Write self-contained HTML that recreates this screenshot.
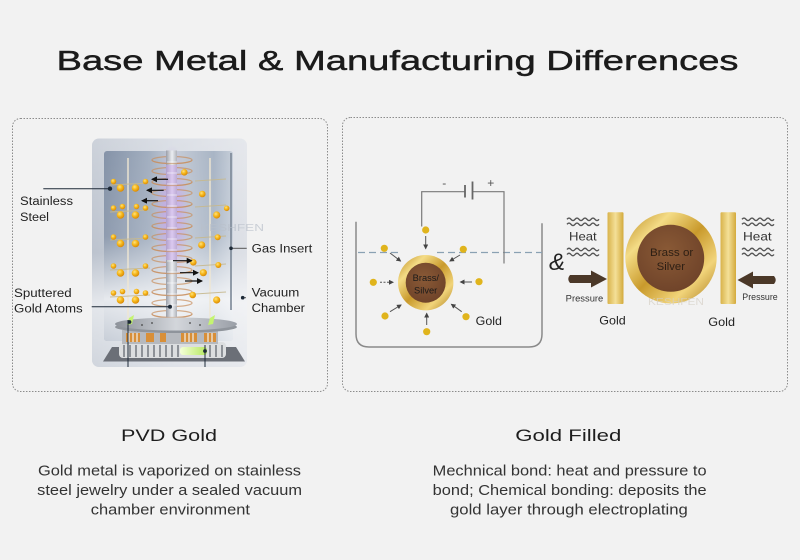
<!DOCTYPE html>
<html><head><meta charset="utf-8">
<style>
html,body{margin:0;padding:0;background:#f2f2f2;}
svg{display:block;}
text{font-family:"Liberation Sans",sans-serif;}
</style></head><body>
<svg width="800" height="560" viewBox="0 0 800 560" xmlns="http://www.w3.org/2000/svg">
<defs>
 <linearGradient id="frame" x1="0" y1="0" x2="1" y2="0">
  <stop offset="0" stop-color="#bcc3ce"/><stop offset="0.5" stop-color="#d0d5de"/><stop offset="1" stop-color="#dde0e6"/>
 </linearGradient>
 <linearGradient id="frameV" x1="0" y1="0" x2="0" y2="1">
  <stop offset="0" stop-color="#fff" stop-opacity="0.25"/><stop offset="0.5" stop-color="#fff" stop-opacity="0"/><stop offset="0.72" stop-color="#fff" stop-opacity="0.6"/><stop offset="1" stop-color="#fff" stop-opacity="0.3"/>
 </linearGradient>
 <linearGradient id="chamber" x1="0" y1="0" x2="1" y2="0">
  <stop offset="0" stop-color="#8593a8"/><stop offset="0.35" stop-color="#a3afc0"/><stop offset="0.55" stop-color="#c6cdd8"/><stop offset="0.85" stop-color="#a9b5c5"/><stop offset="1" stop-color="#c6ced9"/>
 </linearGradient>
 <linearGradient id="chamberV" x1="0" y1="0" x2="0" y2="1">
  <stop offset="0" stop-color="#fff" stop-opacity="0"/><stop offset="0.45" stop-color="#fff" stop-opacity="0.08"/><stop offset="0.78" stop-color="#fff" stop-opacity="0.8"/><stop offset="1" stop-color="#fff" stop-opacity="0.55"/>
 </linearGradient>
 <linearGradient id="col" x1="0" y1="0" x2="1" y2="0">
  <stop offset="0" stop-color="#9a9ea8"/><stop offset="0.55" stop-color="#eceef2"/><stop offset="1" stop-color="#b0b3ba"/>
 </linearGradient>
 <radialGradient id="purple" cx="0.5" cy="0.5" r="0.5">
  <stop offset="0" stop-color="#c69af0" stop-opacity="0.85"/><stop offset="1" stop-color="#c69af0" stop-opacity="0"/>
 </radialGradient>
 <radialGradient id="ball" cx="0.38" cy="0.35" r="0.65">
  <stop offset="0" stop-color="#ffe27e"/><stop offset="0.5" stop-color="#f6b81c"/><stop offset="1" stop-color="#d98a08"/>
 </radialGradient>
 <linearGradient id="plat" x1="0" y1="0" x2="1" y2="0">
  <stop offset="0" stop-color="#8d929a"/><stop offset="0.5" stop-color="#d3d6db"/><stop offset="1" stop-color="#9a9fa7"/>
 </linearGradient>
 <linearGradient id="ring" x1="0" y1="0" x2="1" y2="1">
  <stop offset="0" stop-color="#b8861c"/><stop offset="0.25" stop-color="#f4dc86"/><stop offset="0.5" stop-color="#c99a2c"/><stop offset="0.75" stop-color="#f1d47a"/><stop offset="1" stop-color="#a9791a"/>
 </linearGradient>
 <radialGradient id="brown" cx="0.45" cy="0.4" r="0.6">
  <stop offset="0" stop-color="#8a5a36"/><stop offset="1" stop-color="#70442a"/>
 </radialGradient>
 <linearGradient id="bar" x1="0" y1="0" x2="1" y2="0">
  <stop offset="0" stop-color="#d8b24a"/><stop offset="0.5" stop-color="#f4e098"/><stop offset="1" stop-color="#d3aa3c"/>
 </linearGradient>
 <linearGradient id="green" x1="0" y1="0" x2="1" y2="0">
  <stop offset="0" stop-color="#f4ffd8"/><stop offset="1" stop-color="#b6e860"/>
 </linearGradient>
 <marker id="ah" markerWidth="6" markerHeight="6" refX="5" refY="3" orient="auto" markerUnits="userSpaceOnUse">
  <path d="M0,0 L6,3 L0,6 Z" fill="#111"/>
 </marker>
 <marker id="ah2" markerWidth="5" markerHeight="5" refX="4" refY="2.5" orient="auto" markerUnits="userSpaceOnUse">
  <path d="M0,0 L5,2.5 L0,5 Z" fill="#444"/>
 </marker>
</defs>

<rect width="800" height="560" fill="#f2f2f2"/>

<!-- Title -->
<text x="56.5" y="70" font-size="28" textLength="682" lengthAdjust="spacingAndGlyphs" fill="#1b1b1b" stroke="#1b1b1b" stroke-width="0.45">Base Metal &amp; Manufacturing Differences</text>

<!-- Panels -->
<rect x="12.5" y="118.5" width="315" height="273" rx="8" fill="#f2f2f2" stroke="#8c8c8c" stroke-width="1" stroke-dasharray="1.5 1.5"/>
<rect x="342.5" y="117.5" width="445" height="274" rx="8" fill="#f2f2f2" stroke="#8c8c8c" stroke-width="1" stroke-dasharray="1.5 1.5"/>

<!-- ===== PVD illustration ===== -->
<rect x="92" y="138.5" width="155" height="228.5" rx="7" fill="url(#frame)"/>
<rect x="92" y="138.5" width="155" height="228.5" rx="7" fill="url(#frameV)"/>
<rect x="104" y="151" width="129" height="190" rx="3" fill="url(#chamber)"/>
<rect x="104" y="151" width="129" height="190" rx="3" fill="url(#chamberV)"/>
<line x1="231" y1="153" x2="231" y2="310" stroke="#7b8796" stroke-width="1.6"/>

<!-- purple glow & column -->
<ellipse cx="172" cy="215" rx="18" ry="70" fill="url(#purple)"/>
<!-- coils behind -->
<g fill="none" stroke="#c98f5e" stroke-width="1.3" opacity="0.7">
 <ellipse cx="172" cy="160" rx="20" ry="3.5"/><ellipse cx="172" cy="171" rx="20" ry="3.5"/><ellipse cx="172" cy="182" rx="20" ry="3.5"/>
 <ellipse cx="172" cy="193" rx="20" ry="3.5"/><ellipse cx="172" cy="204" rx="20" ry="3.5"/><ellipse cx="172" cy="215" rx="20" ry="3.5"/>
 <ellipse cx="172" cy="226" rx="20" ry="3.5"/><ellipse cx="172" cy="237" rx="20" ry="3.5"/><ellipse cx="172" cy="248" rx="20" ry="3.5"/>
 <ellipse cx="172" cy="259" rx="20" ry="3.5"/><ellipse cx="172" cy="270" rx="20" ry="3.5"/><ellipse cx="172" cy="281" rx="20" ry="3.5"/>
 <ellipse cx="172" cy="292" rx="20" ry="3.5"/><ellipse cx="172" cy="303" rx="20" ry="3.5"/><ellipse cx="172" cy="314" rx="20" ry="3.5"/>
</g>
<rect x="166" y="150.5" width="11" height="180" fill="url(#col)"/>
<rect x="166" y="165" width="11" height="95" fill="#c9a4ee" opacity="0.5"/>
<g stroke="#fff" stroke-width="0.8" opacity="0.7">
 <line x1="167" y1="162" x2="177" y2="162"/><line x1="167" y1="173" x2="177" y2="173"/><line x1="167" y1="184" x2="177" y2="184"/>
 <line x1="167" y1="195" x2="177" y2="195"/><line x1="167" y1="206" x2="177" y2="206"/><line x1="167" y1="217" x2="177" y2="217"/>
 <line x1="167" y1="228" x2="177" y2="228"/><line x1="167" y1="239" x2="177" y2="239"/><line x1="167" y1="250" x2="177" y2="250"/>
 <line x1="167" y1="261" x2="177" y2="261"/><line x1="167" y1="272" x2="177" y2="272"/><line x1="167" y1="283" x2="177" y2="283"/>
 <line x1="167" y1="294" x2="177" y2="294"/><line x1="167" y1="305" x2="177" y2="305"/>
</g>
<!-- coils front halves -->
<g fill="none" stroke="#c98f5e" stroke-width="1.2" opacity="0.6">
 <path d="M152 160 a20 3.5 0 0 0 40 0"/><path d="M152 182 a20 3.5 0 0 0 40 0"/><path d="M152 204 a20 3.5 0 0 0 40 0"/>
 <path d="M152 226 a20 3.5 0 0 0 40 0"/><path d="M152 248 a20 3.5 0 0 0 40 0"/><path d="M152 270 a20 3.5 0 0 0 40 0"/>
 <path d="M152 292 a20 3.5 0 0 0 40 0"/><path d="M152 314 a20 3.5 0 0 0 40 0"/>
</g>

<!-- rods -->
<line x1="128" y1="158" x2="128" y2="322" stroke="#efe7d2" stroke-width="1.4"/>
<line x1="210" y1="158" x2="210" y2="322" stroke="#efe7d2" stroke-width="1.4"/>

<!-- branches -->
<g stroke="#c7b98e" stroke-width="1" opacity="0.9">
 <line x1="110" y1="185" x2="150" y2="183"/><line x1="110" y1="212" x2="150" y2="210"/><line x1="110" y1="240" x2="150" y2="238"/>
 <line x1="110" y1="270" x2="150" y2="268"/><line x1="110" y1="297" x2="150" y2="295"/>
 <line x1="195" y1="181" x2="226" y2="179"/><line x1="195" y1="207" x2="226" y2="205"/><line x1="195" y1="238" x2="226" y2="236"/>
 <line x1="195" y1="266" x2="226" y2="264"/><line x1="195" y1="294" x2="226" y2="292"/>
</g>

<!-- gold balls left -->
<g fill="url(#ball)">
 <circle cx="113.5" cy="181.5" r="2.8"/><circle cx="145.5" cy="181.5" r="2.8"/><circle cx="120.5" cy="188" r="3.8"/><circle cx="135.5" cy="188" r="3.8"/>
 <circle cx="113.5" cy="208" r="2.8"/><circle cx="122.5" cy="206.5" r="2.8"/><circle cx="136.5" cy="206.5" r="2.8"/><circle cx="145.5" cy="208" r="2.8"/><circle cx="120.5" cy="215" r="3.8"/><circle cx="135.5" cy="215" r="3.8"/>
 <circle cx="113.5" cy="237" r="2.8"/><circle cx="145.5" cy="237" r="2.8"/><circle cx="120.5" cy="243.5" r="3.8"/><circle cx="135.5" cy="243.5" r="3.8"/>
 <circle cx="113.5" cy="266" r="2.8"/><circle cx="145.5" cy="266" r="2.8"/><circle cx="120.5" cy="273" r="3.8"/><circle cx="135.5" cy="273" r="3.8"/>
 <circle cx="113.5" cy="293" r="2.8"/><circle cx="122.5" cy="291.5" r="2.8"/><circle cx="136.5" cy="291.5" r="2.8"/><circle cx="145.5" cy="293" r="2.8"/><circle cx="120.5" cy="300" r="3.8"/><circle cx="135.5" cy="300" r="3.8"/>
</g>
<!-- gold balls right -->
<g fill="url(#ball)">
 <circle cx="184.3" cy="172.3" r="3.3"/><circle cx="202.3" cy="194" r="3.3"/><circle cx="216.7" cy="215" r="3.6"/><circle cx="226.7" cy="208.3" r="2.8"/>
 <circle cx="201.7" cy="245" r="3.6"/><circle cx="217.7" cy="237.3" r="3"/><circle cx="193.3" cy="262.3" r="3.3"/><circle cx="203.3" cy="272.7" r="3.6"/>
 <circle cx="218.3" cy="265" r="3"/><circle cx="192.7" cy="295" r="3.3"/><circle cx="216.7" cy="300" r="3.6"/>
</g>

<!-- arrows -->
<g stroke="#111" stroke-width="1.2" marker-end="url(#ah)">
 <line x1="168" y1="179.3" x2="152" y2="179.3"/>
 <line x1="163.7" y1="190.3" x2="147" y2="190.3"/>
 <line x1="158" y1="200.7" x2="142" y2="200.7"/>
 <line x1="173" y1="260.7" x2="191.7" y2="260.7"/>
 <line x1="180" y1="272.7" x2="198" y2="272.7"/>
 <line x1="185" y1="281" x2="202" y2="281"/>
</g>

<!-- base -->
<path d="M103 361.5 L112 347 L236 347 L245 361.5 Z" fill="#6b6f77"/>
<rect x="119" y="342" width="107" height="16" rx="4" fill="#dcdee0"/>
<g stroke="#8e9298" stroke-width="2">
 <line x1="124" y1="345" x2="124" y2="357"/><line x1="130" y1="345" x2="130" y2="357"/><line x1="136" y1="345" x2="136" y2="357"/>
 <line x1="142" y1="345" x2="142" y2="357"/><line x1="148" y1="345" x2="148" y2="357"/><line x1="154" y1="345" x2="154" y2="357"/>
 <line x1="160" y1="345" x2="160" y2="357"/><line x1="166" y1="345" x2="166" y2="357"/><line x1="172" y1="345" x2="172" y2="357"/>
 <line x1="178" y1="345" x2="178" y2="357"/><line x1="210" y1="345" x2="210" y2="357"/><line x1="216" y1="345" x2="216" y2="357"/><line x1="222" y1="345" x2="222" y2="357"/>
</g>
<rect x="180" y="347" width="27" height="8" rx="3" fill="url(#green)"/>
<rect x="122" y="330" width="96" height="14" fill="#b6b9be"/>
<g fill="#d88f38">
 <rect x="126" y="333" width="14" height="9"/><rect x="146" y="333" width="8" height="9"/><rect x="160" y="333" width="6" height="9"/>
 <rect x="181" y="333" width="16" height="9"/><rect x="204" y="333" width="12" height="9"/>
</g>
<g stroke="#f0f0f0" stroke-width="1.2">
 <line x1="129" y1="333" x2="129" y2="342"/><line x1="133" y1="333" x2="133" y2="342"/><line x1="137" y1="333" x2="137" y2="342"/>
 <line x1="185" y1="333" x2="185" y2="342"/><line x1="189" y1="333" x2="189" y2="342"/><line x1="193" y1="333" x2="193" y2="342"/>
 <line x1="208" y1="333" x2="208" y2="342"/><line x1="212" y1="333" x2="212" y2="342"/>
</g>
<ellipse cx="176" cy="327" rx="61" ry="6" fill="#8f949b"/>
<ellipse cx="176" cy="324" rx="61" ry="6.5" fill="url(#plat)"/>
<g fill="#444">
 <circle cx="152" cy="323" r="0.9"/><circle cx="190" cy="323" r="0.9"/><circle cx="200" cy="325" r="0.9"/><circle cx="142" cy="325" r="0.9"/>
</g>
<path d="M129 318 L134 315 L132 324 L127 325 Z" fill="#c4f470"/>
<path d="M210 318 L215 315 L213 324 L208 325 Z" fill="#c4f470"/>

<!-- leaders -->
<g stroke="#1e2a38" stroke-width="1" fill="#1e2a38">
 <line x1="43.3" y1="188.7" x2="110" y2="188.7"/><circle cx="110" cy="188.7" r="1.7"/>
 <line x1="231" y1="248.3" x2="246.7" y2="248.3" stroke="#555"/><circle cx="231" cy="248.3" r="1.3"/>
 <line x1="242.7" y1="297.7" x2="246" y2="297.7" stroke="#555"/><circle cx="242.7" cy="297.7" r="1.3"/>
 <line x1="91.7" y1="306.7" x2="170" y2="306.7"/><circle cx="170" cy="306.7" r="1.5"/>
 <line x1="128" y1="320" x2="128" y2="367"/>
 <line x1="205" y1="345" x2="205" y2="367"/><circle cx="205" cy="351" r="1.4"/><circle cx="129.5" cy="322" r="1.4"/>
</g>
<text x="200" y="231" font-family="Liberation Serif,serif" font-size="10" fill="#b9c0ca" opacity="0.7" textLength="64" lengthAdjust="spacingAndGlyphs">KESHFEN</text>

<!-- PVD labels -->
<g font-size="11.5" fill="#222">
 <text x="20" y="205" textLength="53" lengthAdjust="spacingAndGlyphs">Stainless</text>
 <text x="20" y="221" textLength="29" lengthAdjust="spacingAndGlyphs">Steel</text>
 <text x="251.7" y="252.7" textLength="60.6" lengthAdjust="spacingAndGlyphs">Gas Insert</text>
 <text x="251.7" y="296.5" textLength="47.6" lengthAdjust="spacingAndGlyphs">Vacuum</text>
 <text x="251.7" y="312" textLength="53.3" lengthAdjust="spacingAndGlyphs">Chamber</text>
 <text x="14" y="297" textLength="57.7" lengthAdjust="spacingAndGlyphs">Sputtered</text>
 <text x="14" y="312.5" textLength="68.7" lengthAdjust="spacingAndGlyphs">Gold Atoms</text>
</g>

<!-- ===== Electroplating ===== -->
<path d="M356 221.7 L356 334 Q356 347 369 347 L529 347 Q542 347 542 334 L542 223.3" fill="none" stroke="#8a8a8a" stroke-width="1.5"/>
<g stroke="#8aa1b3" stroke-width="1.2" stroke-dasharray="7 4">
 <line x1="358" y1="252.5" x2="401" y2="252.5"/>
 <line x1="437" y1="252.5" x2="542" y2="252.5"/>
</g>
<g fill="none" stroke="#7a7a7a" stroke-width="1.2">
 <polyline points="421.7,226.5 421.7,191.7 465,191.7"/>
 <polyline points="472.5,191.7 504,191.7 504,263.5"/>
</g>
<line x1="465" y1="185" x2="465" y2="197.5" stroke="#666" stroke-width="1.8"/>
<line x1="472.5" y1="181.5" x2="472.5" y2="199.5" stroke="#666" stroke-width="1.8"/>
<text x="444.3" y="187" font-size="12" fill="#555" text-anchor="middle">-</text>
<text x="490.7" y="187" font-size="12" fill="#555" text-anchor="middle">+</text>

<circle cx="425.7" cy="282.7" r="27.7" fill="url(#ring)"/>
<circle cx="425.7" cy="282.7" r="20" fill="url(#brown)"/>
<text x="412.7" y="281" font-size="9" fill="#1a1a1a" textLength="26.3" lengthAdjust="spacingAndGlyphs">Brass/</text>
<text x="414" y="293.3" font-size="9" fill="#1a1a1a" textLength="23.3" lengthAdjust="spacingAndGlyphs">Silver</text>

<g fill="#e0b41c">
 <circle cx="425.7" cy="230" r="3.6"/><circle cx="384.3" cy="248.3" r="3.6"/><circle cx="463.3" cy="249.3" r="3.6"/>
 <circle cx="373.3" cy="282.3" r="3.6"/><circle cx="479" cy="281.7" r="3.6"/><circle cx="385" cy="316" r="3.6"/>
 <circle cx="466" cy="316.7" r="3.6"/><circle cx="426.7" cy="331.7" r="3.6"/>
</g>
<g stroke="#555" stroke-width="1" marker-end="url(#ah2)">
 <line x1="425.7" y1="236" x2="425.7" y2="248.5"/>
 <line x1="390" y1="253" x2="400.5" y2="261"/>
 <line x1="460" y1="255" x2="450" y2="261"/>
 <line x1="380" y1="282.3" x2="393" y2="282.3" stroke-dasharray="2 1.5"/>
 <line x1="472" y1="282" x2="460.5" y2="282"/>
 <line x1="390" y1="311.7" x2="401" y2="305"/>
 <line x1="461.7" y1="311.7" x2="451.5" y2="304.3"/>
 <line x1="426.7" y1="325" x2="426.7" y2="313.5"/>
</g>
<text x="475.7" y="325" font-size="12" fill="#222" textLength="26.3" lengthAdjust="spacingAndGlyphs">Gold</text>

<text x="557" y="270" font-family="Liberation Serif,serif" font-style="italic" font-size="24" fill="#222" text-anchor="middle">&amp;</text>

<!-- ===== Gold filled ===== -->
<rect x="607.5" y="212.3" width="16" height="91.7" rx="1" fill="url(#bar)"/>
<rect x="720.5" y="212.3" width="15.5" height="91.7" rx="1" fill="url(#bar)"/>
<circle cx="671" cy="257.8" r="45.7" fill="url(#ring)"/>
<circle cx="670.7" cy="258.3" r="33.5" fill="url(#brown)"/>
<text x="650" y="256" font-size="11" fill="#2d1f14" textLength="43.3" lengthAdjust="spacingAndGlyphs">Brass or</text>
<text x="656.7" y="270" font-size="11" fill="#2d1f14" textLength="28.3" lengthAdjust="spacingAndGlyphs">Silver</text>
<text x="648" y="305" font-family="Liberation Serif,serif" font-size="10" fill="#d6d0c6" opacity="0.7" textLength="56" lengthAdjust="spacingAndGlyphs">KESHFEN</text>

<g fill="none" stroke="#555" stroke-width="1.4">
 <path d="M567 219.3 q2 -2.5 4 0 t4 0 t4 0 t4 0 t4 0 t4 0 t4 0 t4 0"/>
 <path d="M567 224.3 q2 -2.5 4 0 t4 0 t4 0 t4 0 t4 0 t4 0 t4 0 t4 0"/>
 <path d="M567 249.5 q2 -2.5 4 0 t4 0 t4 0 t4 0 t4 0 t4 0 t4 0 t4 0"/>
 <path d="M567 254.5 q2 -2.5 4 0 t4 0 t4 0 t4 0 t4 0 t4 0 t4 0 t4 0"/>
 <path d="M742 219.3 q2 -2.5 4 0 t4 0 t4 0 t4 0 t4 0 t4 0 t4 0 t4 0"/>
 <path d="M742 224.3 q2 -2.5 4 0 t4 0 t4 0 t4 0 t4 0 t4 0 t4 0 t4 0"/>
 <path d="M742 249.5 q2 -2.5 4 0 t4 0 t4 0 t4 0 t4 0 t4 0 t4 0 t4 0"/>
 <path d="M742 254.5 q2 -2.5 4 0 t4 0 t4 0 t4 0 t4 0 t4 0 t4 0 t4 0"/>
</g>
<text x="569" y="240.7" font-size="12" fill="#333" textLength="27.7" lengthAdjust="spacingAndGlyphs">Heat</text>
<text x="743" y="240.7" font-size="12" fill="#333" textLength="28.7" lengthAdjust="spacingAndGlyphs">Heat</text>

<path d="M570 275 L591 275 L591 270.5 L607 279 L591 287.5 L591 283 L570 283 Q566.5 279 570 275 Z" fill="#4b3828"/>
<path d="M774 276 L753 276 L753 271.5 L737.5 280 L753 288.5 L753 284 L774 284 Q777.5 280 774 276 Z" fill="#4b3828"/>
<text x="565.7" y="301.7" font-size="9" fill="#333" textLength="37.6" lengthAdjust="spacingAndGlyphs">Pressure</text>
<text x="742.3" y="300" font-size="9" fill="#333" textLength="35.4" lengthAdjust="spacingAndGlyphs">Pressure</text>

<text x="599.3" y="324.3" font-size="12" fill="#222" textLength="26.4" lengthAdjust="spacingAndGlyphs">Gold</text>
<text x="708.3" y="326" font-size="12" fill="#222" textLength="26.7" lengthAdjust="spacingAndGlyphs">Gold</text>

<!-- Bottom text -->
<text x="121" y="441" font-size="17" fill="#1e1e1e" textLength="96" lengthAdjust="spacingAndGlyphs">PVD Gold</text>
<text x="515.3" y="441" font-size="17" fill="#1e1e1e" textLength="106" lengthAdjust="spacingAndGlyphs">Gold Filled</text>

<g font-size="15" fill="#333">
 <text x="38" y="475.5" textLength="263" lengthAdjust="spacingAndGlyphs">Gold metal is vaporized on stainless</text>
 <text x="37.2" y="495" textLength="264.8" lengthAdjust="spacingAndGlyphs">steel jewelry under a sealed vacuum</text>
 <text x="90.8" y="514.5" textLength="159.2" lengthAdjust="spacingAndGlyphs">chamber environment</text>
 <text x="432.7" y="475.5" textLength="273.9" lengthAdjust="spacingAndGlyphs">Mechnical bond: heat and pressure to</text>
 <text x="432.7" y="495" textLength="273.9" lengthAdjust="spacingAndGlyphs">bond; Chemical bonding: deposits the</text>
 <text x="450" y="514.5" textLength="237.8" lengthAdjust="spacingAndGlyphs">gold layer through electroplating</text>
</g>
</svg>
</body></html>
